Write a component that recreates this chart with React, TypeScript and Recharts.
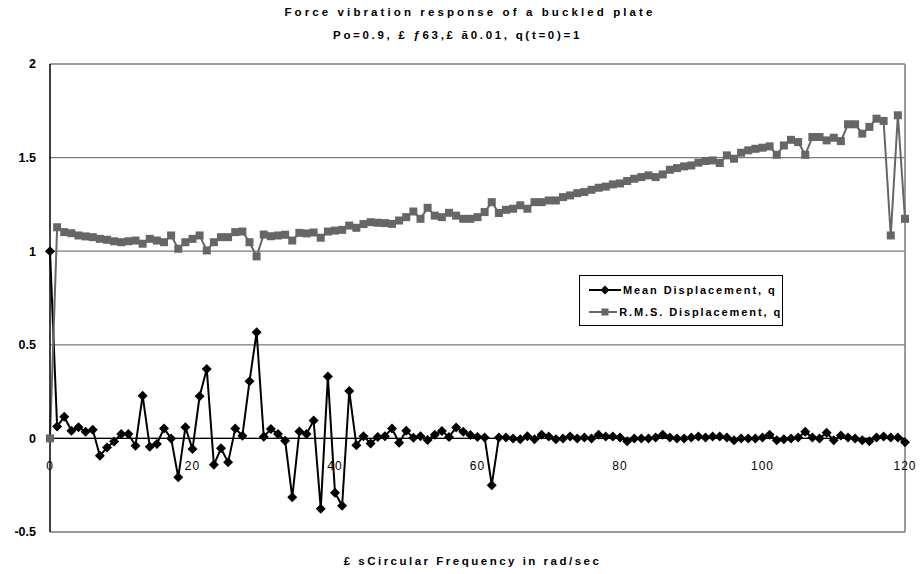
import React from 'react';
import { LineChart, Line, XAxis, YAxis, CartesianGrid, ReferenceLine } from 'recharts';

const frequencies = [
    0, 1, 2, 3, 4, 5, 6, 7, 8, 9, 10, 11, 12, 13, 14, 15, 16, 17, 18, 19,
    20, 21, 22, 23, 24, 25, 26, 27, 28, 29, 30, 31, 32, 33, 34, 35, 36, 37, 38, 39,
    40, 41, 42, 43, 44, 45, 46, 47, 48, 49, 50, 51, 52, 53, 54, 55, 56, 57, 58, 59,
    60, 61, 62, 63, 64, 65, 66, 67, 68, 69, 70, 71, 72, 73, 74, 75, 76, 77, 78, 79,
    80, 81, 82, 83, 84, 85, 86, 87, 88, 89, 90, 91, 92, 93, 94, 95, 96, 97, 98, 99,
    100, 101, 102, 103, 104, 105, 106, 107, 108, 109, 110, 111, 112, 113, 114, 115, 116, 117, 118, 119,
    120,
];

const meanDisplacement = [
    1.0, 0.063, 0.116, 0.041, 0.059, 0.036, 0.046, -0.093, -0.048, -0.016,
    0.023, 0.023, -0.039, 0.228, -0.044, -0.03, 0.053, 0.0, -0.208, 0.059,
    -0.057, 0.225, 0.371, -0.141, -0.053, -0.128, 0.053, 0.014, 0.305, 0.567,
    0.009, 0.05, 0.023, -0.012, -0.315, 0.037, 0.023, 0.095, -0.376, 0.33,
    -0.29, -0.36, 0.253, -0.036, 0.012, -0.027, 0.008, 0.012, 0.053, -0.023,
    0.041, 0.003, 0.012, -0.009, 0.02, 0.04, 0.008, 0.058, 0.035, 0.018,
    0.008, 0.005, -0.25, 0.005, 0.005, 0.0, -0.005, 0.012, -0.005, 0.02,
    0.01, -0.005, 0.0, 0.01, 0.0, 0.005, 0.0, 0.02, 0.01, 0.01,
    0.005, -0.015, 0.0, 0.0, 0.0, 0.005, 0.02, 0.005, 0.0, 0.0,
    0.005, 0.01, 0.005, 0.01, 0.01, 0.005, -0.01, 0.0, 0.0, 0.0,
    0.005, 0.02, -0.01, -0.005, 0.0, 0.005, 0.035, 0.005, 0.0, 0.03,
    -0.01, 0.015, 0.005, 0.0, -0.01, -0.015, 0.005, 0.01, 0.005, 0.005,
    -0.02,
];

const rmsDisplacement = [
    0.0, 1.128, 1.102, 1.096, 1.084, 1.079, 1.075, 1.066, 1.061, 1.053,
    1.048, 1.053, 1.057, 1.04, 1.066, 1.057, 1.048, 1.084, 1.013, 1.048,
    1.066, 1.084, 1.004, 1.048, 1.075, 1.075, 1.102, 1.105, 1.048, 0.972,
    1.089, 1.08, 1.084, 1.088, 1.057, 1.098, 1.095, 1.1, 1.072, 1.105,
    1.11, 1.114, 1.137, 1.125, 1.145, 1.155, 1.152, 1.15, 1.146, 1.164,
    1.182, 1.212, 1.173, 1.232, 1.19, 1.182, 1.205, 1.19, 1.173, 1.173,
    1.182, 1.209, 1.262, 1.204, 1.221, 1.227, 1.245, 1.227, 1.262, 1.262,
    1.271, 1.271, 1.289, 1.298, 1.31, 1.316, 1.328, 1.339, 1.345, 1.357,
    1.362, 1.375, 1.387, 1.396, 1.405, 1.396, 1.41, 1.435, 1.444, 1.453,
    1.458, 1.473, 1.482, 1.485, 1.471, 1.512, 1.494, 1.526, 1.539, 1.547,
    1.553, 1.56, 1.515, 1.565, 1.595, 1.583, 1.515, 1.61, 1.61, 1.592,
    1.606, 1.588, 1.678, 1.678, 1.628, 1.664, 1.708, 1.696, 1.084, 1.726,
    1.173,
];

const xTicks = [0, 20, 40, 60, 80, 100, 120];
const yTicks = [-0.5, 0, 0.5, 1, 1.5, 2];

const MEAN_NAME = 'Mean Displacement, q';
const RMS_NAME = 'R.M.S. Displacement, q';

const data = frequencies.map((f, i) => ({
    freq: f,
    mean: meanDisplacement[i],
    rms: rmsDisplacement[i],
}));

const FONT = '"Liberation Sans", Arial, sans-serif';

const Diamond = (props: any) => {
    const { cx, cy } = props;
    if (cx == null || cy == null) return null;
    const r = 5;
    return <path d={`M${cx},${cy - r}L${cx + r},${cy}L${cx},${cy + r}L${cx - r},${cy}Z`} fill="#000" />;
};

const Square = (props: any) => {
    const { cx, cy } = props;
    if (cx == null || cy == null) return null;
    return <rect x={cx - 4} y={cy - 4} width={8} height={8} fill="#666" />;
};

// x labels sit just under the zero line, like the spreadsheet original
const XTick = (props: any) => {
    const { x, y, payload } = props;
    return (
        <text x={x} y={y - 79} textAnchor="middle" dy="0.71em" fontFamily={FONT} fontSize={12} letterSpacing={1} fill="#000">
            {payload.value}
        </text>
    );
};

const LegendBox = () => (
    <div style={{ position: 'absolute', left: 579, top: 275, border: '1px solid #000', background: '#fff', width: 204, height: 51, boxSizing: 'border-box', padding: '3px 0 0 9px', fontFamily: FONT, fontSize: 11, fontWeight: 'bold', letterSpacing: 1.9, whiteSpace: 'nowrap', overflow: 'hidden' }}>
        <div style={{ display: 'flex', alignItems: 'center', height: 22 }}>
            <svg width={32} height={12}>
                <line x1={0} y1={6} x2={32} y2={6} stroke="#000" strokeWidth={2} />
                <path d="M16,1.5L20.5,6L16,10.5L11.5,6Z" fill="#000" />
            </svg>
            <span style={{ marginLeft: 2 }}>{MEAN_NAME}</span>
        </div>
        <div style={{ display: 'flex', alignItems: 'center', height: 22 }}>
            <svg width={32} height={12}>
                <line x1={0} y1={6} x2={32} y2={6} stroke="#666" strokeWidth={2} />
                <rect x={12.5} y={2.5} width={7} height={7} fill="#666" />
            </svg>
            <span style={{ marginLeft: 2 }}>{RMS_NAME}</span>
        </div>
    </div>
);

export default function App() {
    return (
        <div style={{ position: 'absolute', left: 0, top: 0, width: 920, height: 574, background: '#fff' }}>
            <div style={{ position: 'absolute', left: 0, top: 6, width: 940, textAlign: 'center', fontFamily: FONT, fontSize: 11.5, fontWeight: 'bold', letterSpacing: 3.1 }}>
                Force vibration response of a buckled plate
            </div>
            <div style={{ position: 'absolute', left: 0, top: 29, width: 915, textAlign: 'center', fontFamily: FONT, fontSize: 11.5, fontWeight: 'bold', letterSpacing: 2.7 }}>
                Po=0.9, £ ƒ63,£ ā0.01, q(t=0)=1
            </div>
            <LineChart width={920} height={574} data={data} margin={{ top: 64, right: 15, bottom: 12, left: 0 }}>
                <CartesianGrid horizontal vertical={false} stroke="#7a7a7a" strokeWidth={1.3} />
                <XAxis dataKey="freq" type="number" domain={[0, 120]} ticks={xTicks} axisLine={false} tickLine={false} height={30} tick={<XTick />} interval={0} />
                <YAxis domain={[-0.5, 2]} ticks={yTicks} width={50} axisLine={{ stroke: '#000', strokeWidth: 1.5 }} tickLine={false} tickSize={0} tickMargin={14}
                    tick={{ fontFamily: FONT, fontSize: 12.5, fontWeight: 'bold', fill: '#000' }} interval={0} />
                <ReferenceLine y={0} stroke="#000" strokeWidth={1.3} />
                <ReferenceLine x={120} stroke="#7a7a7a" strokeWidth={1.5} />
                <Line name={MEAN_NAME} dataKey="mean" type="linear" stroke="#000" strokeWidth={2} dot={<Diamond />} activeDot={false} isAnimationActive={false} />
                <Line name={RMS_NAME} dataKey="rms" type="linear" stroke="#666" strokeWidth={2} dot={<Square />} activeDot={false} isAnimationActive={false} />
            </LineChart>
            <LegendBox />
            <div style={{ position: 'absolute', left: 0, top: 555, width: 945, textAlign: 'center', fontFamily: FONT, fontSize: 11.5, fontWeight: 'bold', letterSpacing: 2.5 }}>
                £ sCircular Frequency in rad/sec
            </div>
        </div>
    );
}
